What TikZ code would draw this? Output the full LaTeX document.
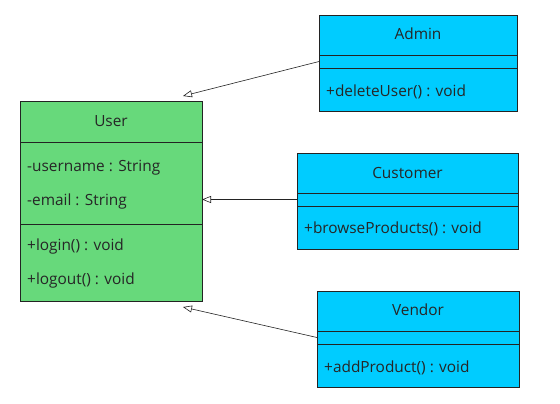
\documentclass[tikz,border=0pt]{standalone}
\usepackage{fontspec}
\setmainfont{Open Sans}
\usetikzlibrary{positioning,arrows.meta}
\definecolor{userGreen}{RGB}{103,217,123}
\definecolor{subBlue}{RGB}{0,204,255}
\definecolor{lineGrey}{RGB}{35,35,35}
\tikzset {
    style box/.style={
        draw=lineGrey,
        line width=0.8pt,
        rectangle, % one part of a class
        anchor=north west,
        inner sep=0pt,
        outer sep=0pt,
    },
    style user/.style={
        style box,
        fill=userGreen,
        minimum width=182pt,
    },
    style sub/.style={
        style box,
        fill=subBlue,
    },
    style title/.style={
        anchor=base,
        inner sep=0pt,
        text=black!85,
    },
    style member/.style={
        anchor=base west,
        inner sep=0pt,
        text=black!85,
    },
    style inherit/.style={
        draw=lineGrey,
        line width=0.6pt,
        -{Triangle[open,length=9pt,width=7pt]},
    },
}

\begin{document}
\begin{tikzpicture}
[x=1pt, y=-1pt, font=\fontsize{15.4}{18}\selectfont]
\useasboundingbox (0,0) rectangle (560,404);
% User
\node[style user, minimum height=41pt] at (20,101) (userHead) {};
\node[style user, minimum height=82pt] at (20,142) (userAttr) {};
\node[style user, minimum height=77pt] at (20,224) (userOps) {};
\node[style title] at (111,126.5) (userName) {User};
\node[style member] at (27,171.5) (userName1) {-username : String};
\node[style member] at (27,205.5) (userEmail) {-email : String};
\node[style member] at (27,250.5) (userLogin) {+login() : void};
\node[style member] at (27,284.5) (userLogout) {+logout() : void};
% Admin
\node[style sub, minimum width=198pt, minimum height=40pt] at (319,15) (adminHead) {};
\node[style sub, minimum width=198pt, minimum height=13pt] at (319,55) (adminAttr) {};
\node[style sub, minimum width=198pt, minimum height=43pt] at (319,68) (adminOps) {};
\node[style title] at (418,40) (adminName) {Admin};
\node[style member] at (326,96) (adminDelete) {+deleteUser() : void};
% Customer
\node[style sub, minimum width=221pt, minimum height=40pt] at (297,153) (customerHead) {};
\node[style sub, minimum width=221pt, minimum height=13pt] at (297,193) (customerAttr) {};
\node[style sub, minimum width=221pt, minimum height=43pt] at (297,206) (customerOps) {};
\node[style title] at (407.5,178) (customerName) {Customer};
\node[style member] at (304,233.5) (customerBrowse) {+browseProducts() : void};
% Vendor
\node[style sub, minimum width=202pt, minimum height=40pt] at (317,291) (vendorHead) {};
\node[style sub, minimum width=202pt, minimum height=13pt] at (317,331) (vendorAttr) {};
\node[style sub, minimum width=202pt, minimum height=43pt] at (317,344) (vendorOps) {};
\node[style title] at (418,315.5) (vendorName) {Vendor};
\node[style member] at (324,372.5) (vendorAdd) {+addProduct() : void};

\coordinate (adminTip) at (183,96);
\coordinate (vendorTip) at (183,307);

\draw[style inherit] (adminAttr.west) -- (adminTip);
\draw[style inherit] (customerAttr.west) -- (customerAttr.west -| userAttr.east);
\draw[style inherit] (vendorAttr.west) -- (vendorTip);
\end{tikzpicture}
\end{document}
